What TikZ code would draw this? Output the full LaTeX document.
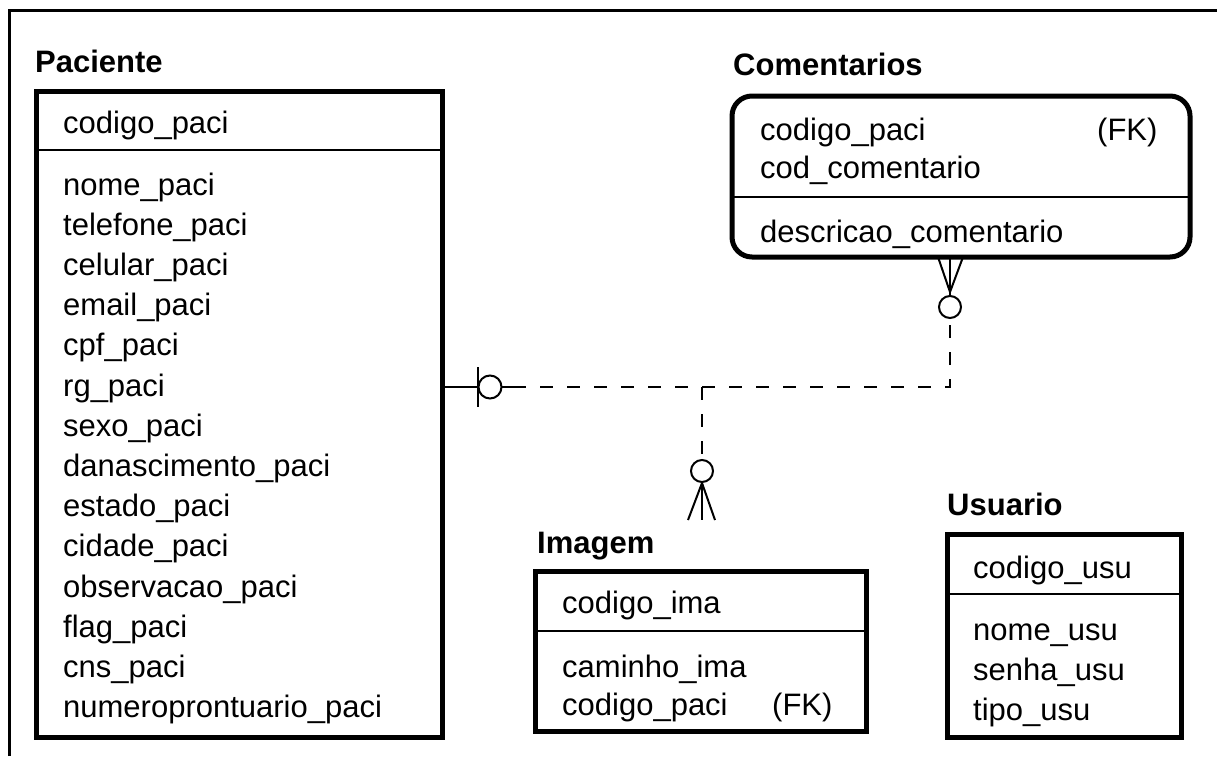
\documentclass[tikz,border=0pt]{standalone}
\usepackage{fontspec}
\setmainfont{Liberation Sans}
\usetikzlibrary{calc}
\newcommand\erattrfont{\fontsize{31}{37}\selectfont}
\newcommand\ertitlefont{\fontsize{31}{37}\selectfont\bfseries}
\begin{document}
\begin{tikzpicture}[x=1pt,y=-1pt,
  entity/.style={draw, line width=5pt, inner sep=0pt, outer sep=0pt},
  sepline/.style={line width=2pt},
  rel/.style={line width=2pt},
  dsh/.style={line width=2pt, dash pattern=on 13pt off 14pt},
  attr/.style={anchor=base west, inner sep=0pt, font=\erattrfont},
  etitle/.style={anchor=base west, inner sep=0pt, font=\ertitlefont},
  frame/.style={line width=3pt}
]
\useasboundingbox (0,0) rectangle (1217,756);
% outer frame (only top and left visible)
\draw[frame] (9,756) -- (9,10) -- (1217,10);

% ---------- Paciente ----------
\node[etitle] (tpac) at (35,72) {Paciente};
\node[entity, minimum width=406pt, minimum height=646pt] (pac) at (239,414) {};
\draw[sepline] ($(pac.north west)+(0,59)$) -- ($(pac.north east)+(0,59)$);
\node[attr] (pk1) at (63,133) {codigo\_paci};
\foreach \t [count=\i from 0] in {nome\_paci,telefone\_paci,celular\_paci,email\_paci,cpf\_paci,rg\_paci,sexo\_paci,danascimento\_paci,estado\_paci,cidade\_paci,observacao\_paci,flag\_paci,cns\_paci,numeroprontuario\_paci}
  \node[attr] (pa\i) at (63,{195+40.2*\i}) {\t};

% ---------- Comentarios ----------
\node[etitle] (tcom) at (733,75) {Comentarios};
\node[entity, rounded corners=20pt, minimum width=458pt, minimum height=161pt] (com) at (961,176.5) {};
\draw[sepline] ($(com.north west)+(0,101)$) -- ($(com.north east)+(0,101)$);
\node[attr] (ck1) at (760,140) {codigo\_paci};
\node[attr] (ckf) at (1097,140) {(FK)};
\node[attr] (ck2) at (760,178) {cod\_comentario};
\node[attr] (ca1) at (760,242) {descricao\_comentario};

% ---------- Imagem ----------
\node[etitle] (tima) at (537,553) {Imagem};
\node[entity, minimum width=331pt, minimum height=160pt] (ima) at (700.5,651) {};
\draw[sepline] ($(ima.north west)+(0,60)$) -- ($(ima.north east)+(0,60)$);
\node[attr] (ik1) at (562,613) {codigo\_ima};
\node[attr] (ia1) at (562,677) {caminho\_ima};
\node[attr] (ia2) at (562,715) {codigo\_paci};
\node[attr] (iaf) at (772,715) {(FK)};

% ---------- Usuario ----------
\node[etitle] (tusu) at (947,515) {Usuario};
\node[entity, minimum width=234pt, minimum height=203pt] (usu) at (1064,635.5) {};
\draw[sepline] ($(usu.north west)+(0,60)$) -- ($(usu.north east)+(0,60)$);
\node[attr] (uk1) at (973,578) {codigo\_usu};
\node[attr] (ua1) at (973,640) {nome\_usu};
\node[attr] (ua2) at (973,680) {senha\_usu};
\node[attr] (ua3) at (973,720) {tipo\_usu};

% ---------- Relationships ----------
\coordinate (jn) at (702,387);
\coordinate (cc) at (950,387);
\coordinate (pe) at (pac.east |- jn);
% Paciente end: one bar + circle
\draw[rel] (pe) -- ($(pe)+(36,0)$);
\draw[rel] ($(pe)+(36,-20)$) -- ($(pe)+(36,20)$);
\draw[rel] ($(pe)+(48,0)$) circle (11.5pt);
\draw[rel] ($(pe)+(59.5,0)$) -- ($(pe)+(71,0)$);
% dashed to Comentarios
\draw[dsh] ($(pe)+(71,0)$) -- (cc) -- ($(cc)+(0,-69)$);
\draw[rel] ($(cc)+(0,-80)$) circle (11pt);
\coordinate (cf) at ($(cc)+(0,-95)$);
\draw[rel] ($(cc)+(0,-91)$) -- (cf);
\coordinate (cb) at (com.south -| cf);
\draw[rel] (cf) -- ($(cb)+(-12,0)$);
\draw[rel] (cf) -- (cb);
\draw[rel] (cf) -- ($(cb)+(13,0)$);
% dashed branch to Imagem
\draw[dsh] (jn) -- ($(jn)+(0,73)$);
\draw[rel] ($(jn)+(0,84)$) circle (11pt);
\coordinate (imf) at ($(jn)+(0,96)$);
\draw[rel] ($(jn)+(0,95)$) -- (imf);
\draw[rel] (imf) -- ($(jn)+(-14,133)$);
\draw[rel] (imf) -- ($(jn)+(0,133)$);
\draw[rel] (imf) -- ($(jn)+(13,133)$);
\end{tikzpicture}
\end{document}
